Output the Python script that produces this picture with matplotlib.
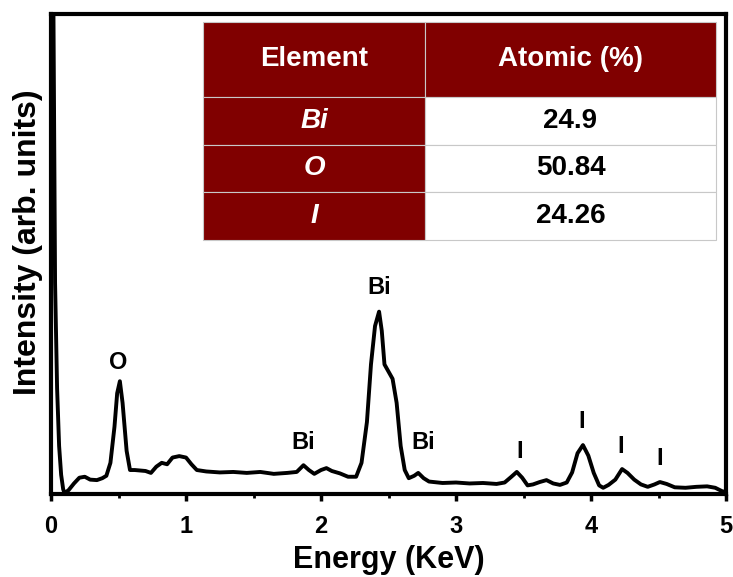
import matplotlib.pyplot as plt
from matplotlib.ticker import MultipleLocator

plt.rcParams['font.family'] = ['Liberation Sans', 'DejaVu Sans']
plt.rcParams['font.weight'] = 'bold'

# EDS spectrum (energy in keV, intensity in arb. units)
energy = [0.0, 0.015, 0.03, 0.045, 0.06, 0.075, 0.09, 0.1, 0.13, 0.17, 0.21, 0.25,
          0.29, 0.34, 0.38, 0.41, 0.44, 0.47, 0.49, 0.51, 0.53, 0.56, 0.585, 0.62,
          0.66, 0.70, 0.74, 0.78, 0.82, 0.86, 0.90, 0.95, 1.00, 1.04, 1.08, 1.15,
          1.25, 1.35, 1.45, 1.55, 1.65, 1.75, 1.82, 1.87, 1.91, 1.95, 2.00, 2.04,
          2.08, 2.14, 2.20, 2.26, 2.30, 2.34, 2.37, 2.40, 2.43, 2.45, 2.47, 2.50,
          2.53, 2.56, 2.59, 2.62, 2.65, 2.69, 2.72, 2.76, 2.80, 2.90, 3.00, 3.10,
          3.20, 3.30, 3.36, 3.41, 3.45, 3.49, 3.53, 3.57, 3.62, 3.67, 3.72, 3.77,
          3.82, 3.86, 3.90, 3.94, 3.98, 4.02, 4.06, 4.09, 4.13, 4.18, 4.23, 4.27,
          4.32, 4.37, 4.42, 4.47, 4.51, 4.56, 4.62, 4.70, 4.78, 4.86, 4.92, 4.97, 5.0]
intensity = [130, 115, 44, 22, 10, 4, 1, 0.2, 0.8, 2.2, 3.4, 3.6,
             3.0, 2.9, 3.3, 3.8, 6.5, 14, 21, 23.5, 19, 9, 5, 5.0,
             4.9, 4.8, 4.4, 5.7, 6.5, 6.2, 7.6, 7.9, 7.6, 6.2, 5.0, 4.7,
             4.5, 4.6, 4.4, 4.6, 4.2, 4.4, 4.6, 6.0, 5.0, 4.2, 5.0, 5.4,
             4.8, 4.3, 3.6, 3.6, 6.5, 15, 27, 35, 38, 34, 27, 25.5,
             24, 19, 10, 5, 3.3, 3.8, 4.4, 3.3, 2.6, 2.3, 2.4, 2.2,
             2.3, 2.1, 2.4, 3.6, 4.6, 3.4, 1.8, 2.0, 2.5, 2.9, 2.2, 1.9,
             2.4, 4.5, 8.5, 10.2, 8.0, 4.4, 1.8, 1.3, 1.9, 3.0, 5.2, 4.4,
             3.0, 2.0, 1.5, 2.0, 2.5, 2.1, 1.4, 1.3, 1.5, 1.6, 1.3, 0.6, 0.4]

# peak labels
peak_names = ['O', 'Bi', 'Bi', 'Bi', 'I', 'I', 'I', 'I']
peak_x = [0.50, 1.87, 2.43, 2.76, 3.47, 3.93, 4.22, 4.51]
peak_y = [27.5, 10.8, 43.0, 10.8, 8.8, 15.2, 10.0, 7.3]

# composition table
col_labels = ['Element', 'Atomic (%)']
elements = ['Bi', 'O', 'I']
atomic = ['24.9', '50.84', '24.26']

dark_red = '#800000'

fig = plt.figure(figsize=(7.33, 5.77), dpi=100)
ax = fig.add_axes([0.0696, 0.1438, 0.9209, 0.8319])

ax.plot(energy, intensity, color='black', lw=2.8, solid_joinstyle='round')
ax.set_xlim(0, 5)
ax.set_ylim(0, 100)

for name, x, y in zip(peak_names, peak_x, peak_y):
    ax.text(x, y, name, ha='center', va='center', fontsize=17, fontweight='bold')

ax.set_xlabel('Energy (KeV)', fontsize=22, fontweight='bold', labelpad=5)
ax.set_ylabel('Intensity (arb. units)', fontsize=23, fontweight='bold')
ax.yaxis.set_label_coords(-0.012, 0.525)

ax.xaxis.set_major_locator(MultipleLocator(1))
ax.xaxis.set_minor_locator(MultipleLocator(0.5))
ax.tick_params(axis='x', which='major', direction='out', length=5, width=2.5,
               labelsize=17, pad=10)
ax.tick_params(axis='x', which='minor', direction='out', length=3, width=2)
ax.set_yticks([])
for s in ax.spines.values():
    s.set_linewidth(3)

# table
cells = [[e, a] for e, a in zip(elements, atomic)]
tab = ax.table(cellText=cells, colLabels=col_labels, cellLoc='center',
               colWidths=[0.433, 0.567], bbox=[0.225, 0.529, 0.760, 0.454])
tab.auto_set_font_size(False)
for (r, c), cell in tab.get_celld().items():
    cell.set_edgecolor('#c8c8c8')
    cell.set_linewidth(0.8)
    cell.set_height(75 if r == 0 else 48)
    txt = cell.get_text()
    txt.set_fontsize(20)
    txt.set_fontweight('bold')
    if r == 0 or c == 0:
        cell.set_facecolor(dark_red)
        txt.set_color('white')
        if r > 0:
            txt.set_fontstyle('italic')
    else:
        cell.set_facecolor('white')
        txt.set_color('black')

fig.savefig('out.png', dpi=100)
